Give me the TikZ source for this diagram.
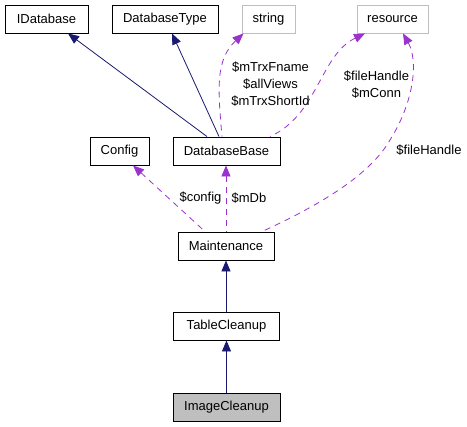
\documentclass[tikz,border=0pt]{standalone}
\usepackage{fontspec}
\setmainfont{Liberation Sans}
\usetikzlibrary{arrows.meta}
\definecolor{navyedge}{HTML}{191970}
\definecolor{useedge}{HTML}{9A32CD}
\definecolor{greybox}{HTML}{BFBFBF}
\begin{document}
\begin{tikzpicture}[x=1pt,y=-1pt,
    font=\fontsize{13}{17}\selectfont,
    cls/.style={draw=black, line width=0.9pt, minimum height=28pt, inner sep=0pt},
    extcls/.style={cls, draw=greybox},
    inherit/.style={draw=navyedge, line width=0.8pt, {Triangle[length=11pt,width=9pt]}-},
    uses/.style={draw=useedge, line width=0.8pt, dash pattern=on 6pt off 5pt, {Triangle[length=11pt,width=9pt]}-},
    lbl/.style={align=center, inner sep=0pt}]
  \useasboundingbox (0,0) rectangle (467,427);
  % classes
  \node[cls, minimum width=83pt] (idb) at (46.5,19) {IDatabase};
  \node[cls, minimum width=106pt] (dbtype) at (165,19) {DatabaseType};
  \node[extcls, minimum width=53pt] (str) at (268.5,19) {string};
  \node[extcls, minimum width=71pt] (res) at (392.5,19) {resource};
  \node[cls, minimum width=59pt] (cfg) at (119.5,151) {Config};
  \node[cls, minimum width=107pt] (dbbase) at (226.5,151) {DatabaseBase};
  \node[cls, minimum width=96pt] (maint) at (226,246) {Maintenance};
  \node[cls, minimum width=106pt] (tblclean) at (226.5,326) {TableCleanup};
  \node[cls, minimum width=107pt, fill=greybox] (imgclean) at (226.5,407) {ImageCleanup};
  % inheritance
  \draw[inherit] ([xshift=21.5pt]idb.south) -- ([xshift=-19.5pt]dbbase.north);
  \draw[inherit] ([xshift=7pt]dbtype.south) -- ([xshift=-7.5pt]dbbase.north);
  \draw[inherit] (maint.south) -- (tblclean.north -| maint.south);
  \draw[inherit] (tblclean.south) -- (imgclean.north -| tblclean.south);
  % members
  \draw[uses] ([xshift=-25pt]str.south) .. controls (215,60) and (218,90) .. ([xshift=-4.5pt]dbbase.north);
  \draw[uses] ([xshift=-27.5pt]res.south) .. controls (320,55) and (318,115) .. ([xshift=43.5pt]dbbase.north);
  \draw[uses] ([xshift=10.5pt]res.south) .. controls (418,60) and (415,100) .. (390,140)
    .. controls (370,175) and (320,205) .. ([xshift=36pt]maint.north);
  \draw[uses] ([xshift=13.5pt]cfg.south) -- ([xshift=-21pt]maint.north);
  \draw[uses] (maint.north |- dbbase.south) -- (maint.north);
  % member labels
  \node[lbl] (strlbl) at (270.5,84) {\$mTrxFname\\\$allViews\\\$mTrxShortId};
  \node[lbl] (reslbl) at (376.5,84.5) {\$fileHandle\\\$mConn};
  \node[lbl] (fhlbl) at (429,150) {\$fileHandle};
  \node[lbl] (cfglbl) at (200.5,198) {\$config};
  \node[lbl] (dblbl) at (249,198) {\$mDb};
\end{tikzpicture}
\end{document}
